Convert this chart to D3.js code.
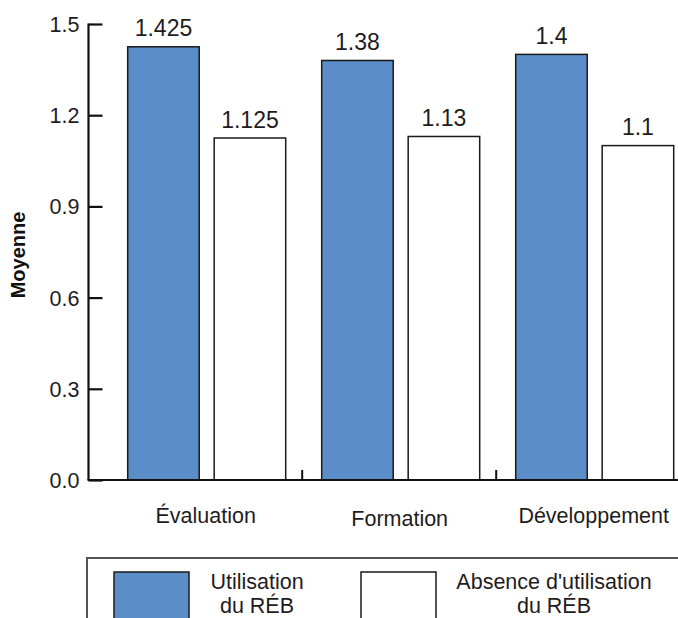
<!DOCTYPE html>
<html>
<head>
<meta charset="utf-8">
<script src="https://cdn.jsdelivr.net/npm/d3@7"></script>
<style>
  html, body { margin: 0; padding: 0; background: #fff; }
  svg { display: block; font-family: "Liberation Sans", Arial, sans-serif; }
</style>
</head>
<body>
<div id="chart"></div>
<script>
// données du graphique
var categories = ["Évaluation", "Formation", "Développement"];
var seriesNames = ["Utilisation du RÉB", "Absence d'utilisation du RÉB"];
var avecREB = [1.425, 1.38, 1.4];
var sansREB = [1.125, 1.13, 1.1];
var valueLabels = [["1.425", "1.125"], ["1.38", "1.13"], ["1.4", "1.1"]];
var yTicks = [0, 0.3, 0.6, 0.9, 1.2, 1.5];
var legendLines = [["Utilisation", "du RÉB"], ["Absence d'utilisation", "du RÉB"]];

var W = 678, H = 618;
var barColors = ["#5b8ec8", "#ffffff"];
var textColor = "#1f1c1d";

var svg = d3.select("#chart").append("svg")
  .attr("width", W)
  .attr("height", H);

// échelles
var x0 = d3.scaleBand()
  .domain(categories)
  .range([108.7, 108.7 + 3 * 194]);

var x1 = d3.scaleBand()
  .domain([0, 1])
  .range([19, 177])
  .paddingInner(0.173);

var y = d3.scaleLinear()
  .domain([0, 1.5])
  .range([480, 24]);

var data = categories.map(function(c, i) {
  return { cat: c, values: [avecREB[i], sansREB[i]], labels: valueLabels[i] };
});

// barres
var groups = svg.selectAll("g.grp")
  .data(data)
  .join("g")
  .attr("class", "grp")
  .attr("transform", d => `translate(${x0(d.cat)},0)`);

groups.selectAll("rect")
  .data(d => d.values.map((v, j) => ({ v: v, j: j, lab: d.labels[j] })))
  .join("rect")
  .attr("x", d => x1(d.j))
  .attr("y", d => y(d.v))
  .attr("width", x1.bandwidth())
  .attr("height", d => y(0) - y(d.v))
  .attr("fill", d => barColors[d.j])
  .attr("stroke", "#1a1a1a")
  .attr("stroke-width", 1.5);

// étiquettes de valeur
groups.selectAll("text.val")
  .data(d => d.values.map((v, j) => ({ v: v, j: j, lab: d.labels[j] })))
  .join("text")
  .attr("class", "val")
  .attr("x", d => x1(d.j) + x1.bandwidth() / 2)
  .attr("y", d => y(d.v) - 10.5)
  .attr("text-anchor", "middle")
  .attr("font-size", "23px")
  .attr("fill", textColor)
  .text(d => d.lab);

// axe Y
var yAxis = d3.axisRight(y)
  .tickValues(yTicks)
  .tickSize(14)
  .tickFormat(d3.format(".1f"));

var gy = svg.append("g")
  .attr("transform", "translate(88.5,0)")
  .call(yAxis);
gy.select(".domain").attr("stroke", "#111").attr("stroke-width", 2.2).attr("d", `M0,${y(1.5) - 0.5}V${y(0)}`);
gy.selectAll(".tick line").attr("stroke", "#111").attr("stroke-width", 2.2);
gy.selectAll(".tick text")
  .attr("x", -9)
  .attr("dy", "0.35em")
  .attr("text-anchor", "end")
  .attr("font-size", "21.5px")
  .attr("font-family", "Liberation Sans, Arial, sans-serif")
  .attr("fill", textColor);

// axe X
svg.append("line")
  .attr("x1", 87.5).attr("x2", W)
  .attr("y1", y(0)).attr("y2", y(0))
  .attr("stroke", "#111")
  .attr("stroke-width", 2.2);

svg.selectAll("line.xtick")
  .data(categories.slice(1))
  .join("line")
  .attr("class", "xtick")
  .attr("x1", d => x0(d) - 0.5).attr("x2", d => x0(d) - 0.5)
  .attr("y1", y(0)).attr("y2", y(0) - 10)
  .attr("stroke", "#111")
  .attr("stroke-width", 2);

var labelDy = [0, 2.5, 0];
svg.selectAll("text.cat")
  .data(categories)
  .join("text")
  .attr("class", "cat")
  .attr("x", d => x0(d) + x0.bandwidth() / 2)
  .attr("y", (d, i) => 523 + labelDy[i])
  .attr("text-anchor", "middle")
  .attr("font-size", "21.5px")
  .attr("fill", textColor)
  .text(d => d);

// titre axe Y
svg.append("text")
  .attr("transform", "translate(25,255) rotate(-90)")
  .attr("text-anchor", "middle")
  .attr("font-size", "20px")
  .attr("font-weight", "bold")
  .attr("fill", "#111")
  .text("Moyenne");

// légende
svg.append("rect")
  .attr("x", 87).attr("y", 558)
  .attr("width", 700).attr("height", 200)
  .attr("fill", "none")
  .attr("stroke", "#555")
  .attr("stroke-width", 2);

var legendX = [114, 361];
var legendTextX = [257, 554];
var lg = svg.selectAll("g.leg")
  .data(seriesNames)
  .join("g")
  .attr("class", "leg");

lg.append("rect")
  .attr("x", (d, i) => legendX[i])
  .attr("y", 572)
  .attr("width", 75)
  .attr("height", 50)
  .attr("fill", (d, i) => barColors[i])
  .attr("stroke", "#1a1a1a")
  .attr("stroke-width", 1.5);

lg.each(function(d, i) {
  var t = d3.select(this).append("text")
    .attr("text-anchor", "middle")
    .attr("font-size", "21.5px")
    .attr("fill", textColor);
  legendLines[i].forEach(function(line, k) {
    t.append("tspan")
      .attr("x", legendTextX[i])
      .attr("y", 589 + k * 24)
      .text(line);
  });
});
</script>
</body>
</html>
